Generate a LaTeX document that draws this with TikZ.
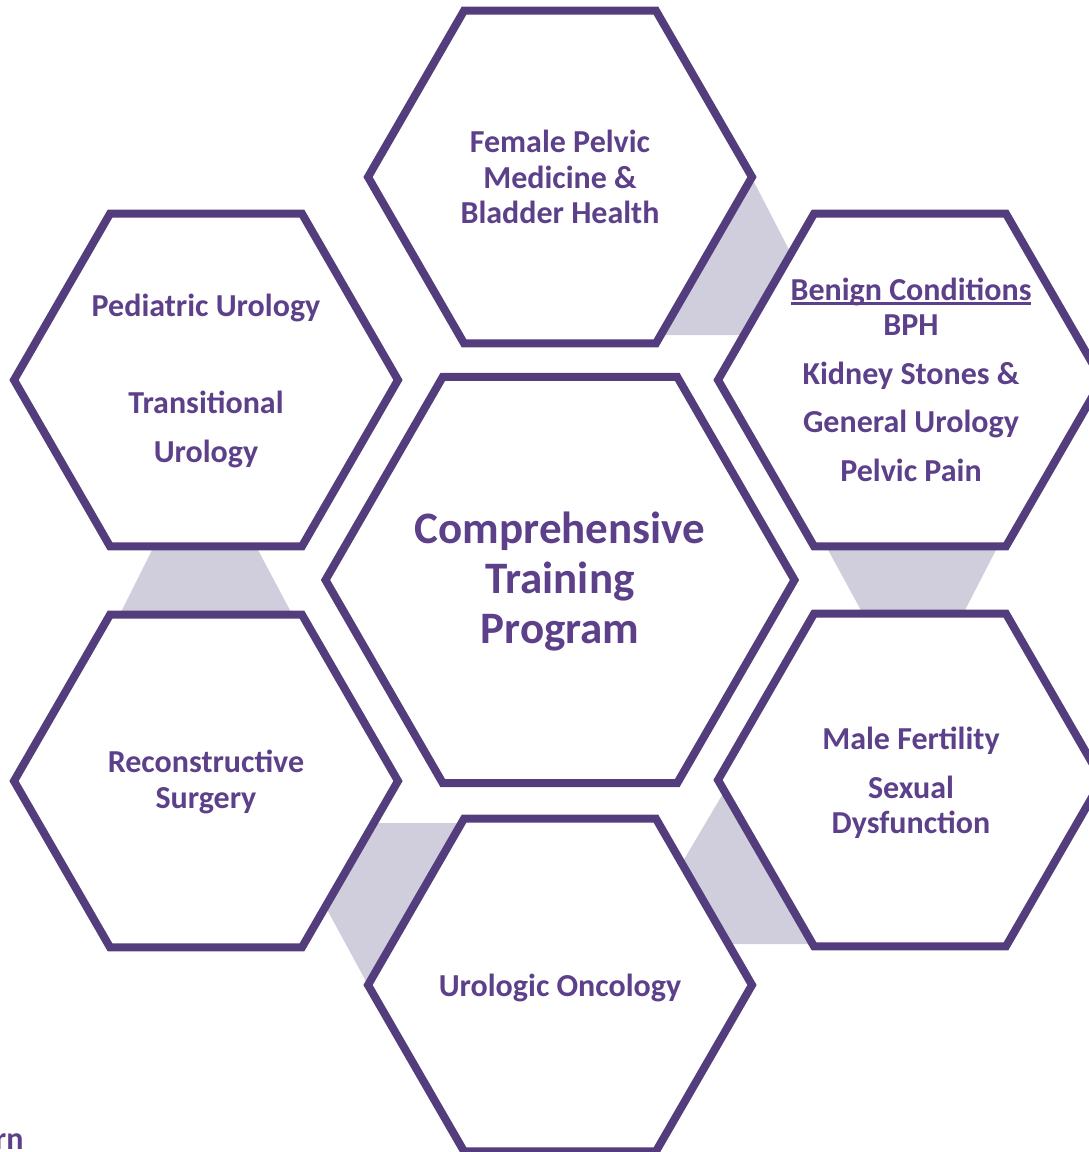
\documentclass[tikz,border=0pt]{standalone}
\usepackage{fontspec}
\setmainfont{Carlito}
\usepackage{xcolor}
\usepackage{tikz}
\usetikzlibrary{positioning, shapes.geometric}
\definecolor{hexpurple}{RGB}{84, 61, 125}
\definecolor{textpurple}{RGB}{93, 64, 138}
\definecolor{linkgray}{RGB}{208, 206, 220}
\newcommand{\hexul}[1]{{\setbox0\hbox{#1}\rlap{\rule[-4.5pt]{\wd0}{2.4pt}}\box0}}
\tikzset{
    hexnode/.style={
        regular polygon, regular polygon sides=6, draw=hexpurple, line width=8pt,
        fill=white, inner sep=0pt, minimum size=384pt
    },
    hextext/.style={
        text=textpurple, align=center, font=\bfseries\fontsize{32}{35.5}\selectfont
    },
    linkband/.style={
        fill=linkgray, draw=none
    }
}

\begin{document}
\begin{tikzpicture}[
        x=1pt, y=-1pt,
        % --- STYLE ---
        bighex/.style={hexnode, minimum size=469pt},
        bigtext/.style={hextext, font=\bfseries\fontsize{45}{50}\selectfont},
        widetext/.style={hextext, font=\bfseries\fontsize{32}{48.5}\selectfont}
    ]
        \useasboundingbox (0,0) rectangle (1089,1152);

        % ==========================================
        % DẢI XÁM NỐI CÁC Ô
        % ==========================================
        \fill[linkband] (752,178) -- (833,335) -- (660,335) -- cycle;
        \fill[linkband] (153,548) -- (257,548) -- (292,614) -- (120,614) -- cycle;
        \fill[linkband] (827,548) -- (997,548) -- (963,614) -- (863,614) -- cycle;
        \fill[linkband] (280,823) -- (462,823) -- (368,985) -- cycle;
        \fill[linkband] (731,780) -- (812,944) -- (634,944) -- cycle;

        % ==========================================
        % CÁC Ô LỤC GIÁC
        % ==========================================
        \node[hexnode] (fpm) at (560,177) {};
        \node[hexnode] (ped) at (206,380) {};
        \node[hexnode] (ben) at (910,380) {};
        \node[bighex] (comp) at (560,580) {};
        \node[hexnode] (rec) at (206,781) {};
        \node[hexnode] (male) at (910,780) {};
        \node[hexnode] (onc) at (560,985) {};

        % ==========================================
        % CHỮ
        % ==========================================
        \node[hextext] (fpmtxt) at (fpm) {Female Pelvic\\Medicine \&\\Bladder Health};
        \node[widetext] (pedtxt) at (206,381) {Pediatric Urology\\[48.5pt]Transitional\\Urology};
        \node[hextext] (bentxt) at (911,380) {\hexul{Benign Conditions}\\BPH\\[13.5pt]Kidney Stones \&\\[12.5pt]General Urology\\[13.5pt]Pelvic Pain};
        \node[bigtext] (comptxt) at (560,582) {Comprehensive\\Training\\Program};
        \node[hextext] (rectxt) at (206,782) {Reconstructive\\Surgery};
        \node[hextext] (maletxt) at (911,783) {Male Fertility\\[13.5pt]Sexual\\Dysfunction};
        \node[hextext] (onctxt) at (560,988) {Urologic Oncology};

        \node[hextext, anchor=base east] (cut) at (27,1149) {rn};

    \end{tikzpicture}
\end{document}
